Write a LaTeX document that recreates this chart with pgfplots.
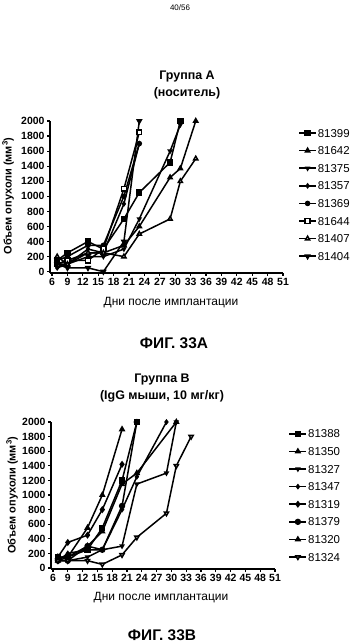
\documentclass[border=0pt]{standalone}
\usepackage{pgfplots}
\pgfplotsset{compat=1.18}
\usepackage{fontspec}
\setmainfont{Liberation Sans}
\pgfplotsset{
  patstyle/.style={
    scale only axis, axis lines*=left,
    xmin=5.6, xmax=51, ymin=-15, ymax=2000,
    xtick={6,9,...,51}, ytick={0,200,...,2000},
    tick align=outside, major tick length=3bp,
    tick style={line width=1.2bp, black},
    axis line style={line width=1.5bp, black},
    ticklabel style={font=\bfseries\fontsize{10.5}{10.5}\selectfont},
    /pgf/number format/assume math mode=true,
    scaled y ticks=false,
    yticklabel style={/pgf/number format/1000 sep={}, xshift=1bp},
    xticklabel style={yshift=1bp},
    clip=false,
    every axis plot/.append style={line width=1.5bp, black, mark size=2.4bp},
    legend cell align=left,
    legend style={draw=none, fill=none, anchor=north west, inner sep=0pt,
      font=\fontsize{11.5}{12}\selectfont, row sep=7.6bp,
      nodes={inner sep=1bp, text height=8bp, text depth=0bp}},
  },
  invtri/.style={mark=triangle*, mark options={rotate=180}},
}
\begin{document}
\begin{tikzpicture}
\useasboundingbox (0,0) rectangle (361bp,-643bp);
\node[font=\fontsize{8}{9}\selectfont] at (180bp,-8bp) {40/56};
% ---------- Group A ----------
\node[font=\bfseries\fontsize{12.5}{13}\selectfont] at (187bp,-77bp) {Группа A};
\node[font=\bfseries\fontsize{12.5}{13}\selectfont] at (187bp,-93bp) {(носитель)};
\begin{axis}[patstyle, at={(50bp,-272.8bp)}, anchor=south west,
  width=233bp, height=151.8bp,
  legend style={at={(1.065,0.955)}}]
\addplot[mark=square*] coordinates {(7,150) (9,250) (13,400) (16,300) (20,700) (23,1050) (29,1450) (31,2000)};
\addlegendentry{81399}
\addplot[mark=triangle*] coordinates {(7,100) (9,150) (13,250) (16,250) (20,350) (23,600) (29,1250) (31,1370) (34,2000)};
\addlegendentry{81642}
\addplot[invtri, mark size=1.8bp] coordinates {(7,100) (9,100) (13,200) (16,200) (20,300) (23,700) (29,1600) (31,1950)};
\addlegendentry{81375}
\addplot[mark=diamond*, mark size=1.8bp] coordinates {(7,50) (9,100) (13,300) (16,250) (20,900) (23,1700)};
\addlegendentry{81357}
\addplot[mark=*, mark size=2bp] coordinates {(7,150) (9,200) (13,350) (16,350) (20,1000) (23,1700)};
\addlegendentry{81369}
\addplot[mark=square*, mark options={fill=white}] coordinates {(7,100) (9,150) (13,150) (16,300) (20,1100) (23,1850)};
\addlegendentry{81644}
\addplot[mark=triangle*, mark options={fill=white}] coordinates {(7,200) (9,100) (13,250) (16,250) (20,200) (23,500) (29,700) (31,1200) (34,1500)};
\addlegendentry{81407}
\addplot[invtri] coordinates {(7,100) (9,50) (13,50) (16,0) (20,400) (23,2000)};
\addlegendentry{81404}
\end{axis}
\node[font=\bfseries\fontsize{11}{12}\selectfont, rotate=90] at (8bp,-196bp) {Объем опухоли (мм\textsuperscript{3})};
\node[font=\fontsize{12}{13}\selectfont] at (171bp,-303bp) {Дни после имплантации};
\node[font=\bfseries\fontsize{15.5}{16}\selectfont] at (174bp,-343bp) {ФИГ. 33A};
% ---------- Group B ----------
\node[font=\bfseries\fontsize{12.5}{13}\selectfont] at (162bp,-380bp) {Группа B};
\node[font=\bfseries\fontsize{12.5}{13}\selectfont] at (162bp,-396bp) {(IgG мыши, 10 мг/кг)};
\begin{axis}[patstyle, at={(51bp,-569.1bp)}, anchor=south west,
  width=224bp, height=147.1bp,
  legend style={at={(1.06,0.955)}}]
\addplot[mark=square*] coordinates {(7,150) (9,150) (13,250) (16,550) (20,1200) (23,2000)};
\addlegendentry{81388}
\addplot[mark=triangle*] coordinates {(7,100) (9,150) (13,300) (16,500) (20,1150) (23,1300) (31,2000)};
\addlegendentry{81350}
\addplot[invtri, mark size=1.8bp] coordinates {(7,100) (9,100) (13,150) (16,250) (20,300) (23,1150) (29,1300) (31,2000)};
\addlegendentry{81327}
\addplot[mark=diamond*, mark size=1.8bp] coordinates {(7,100) (9,200) (13,250) (16,250) (20,800) (23,1250) (29,2000)};
\addlegendentry{81347}
\addplot[mark=diamond*] coordinates {(7,150) (9,350) (13,450) (16,800) (20,1420)};
\addlegendentry{81319}
\addplot[mark=*, mark size=2.4bp] coordinates {(7,100) (9,100) (13,300) (16,250) (20,850) (23,2000)};
\addlegendentry{81379}
\addplot[mark=triangle*] coordinates {(7,150) (9,150) (13,550) (16,1000) (20,1900)};
\addlegendentry{81320}
\addplot[invtri, mark options={fill=white, rotate=180}] coordinates {(7,100) (9,100) (13,100) (16,50) (20,180) (23,420) (29,750) (31,1400) (34,1800)};
\addlegendentry{81324}
\end{axis}
\node[font=\bfseries\fontsize{11}{12}\selectfont, rotate=90] at (12bp,-495bp) {Объем опухоли (мм\textsuperscript{3})};
\node[font=\fontsize{12}{13}\selectfont] at (161bp,-598bp) {Дни после имплантации};
\node[font=\bfseries\fontsize{15.5}{16}\selectfont] at (162bp,-635bp) {ФИГ. 33B};
\end{tikzpicture}
\end{document}
